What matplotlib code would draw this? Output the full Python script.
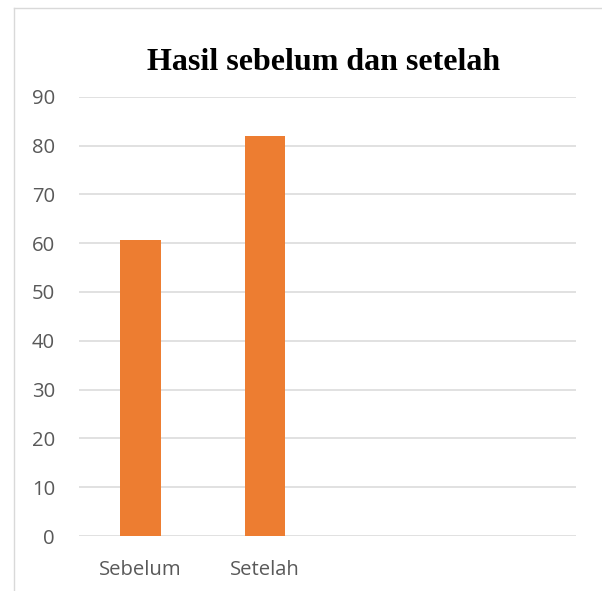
import matplotlib
matplotlib.use("Agg")
import matplotlib.pyplot as plt
from matplotlib.lines import Line2D

categories = ["Sebelum", "Setelah", "", ""]
values = [60.7, 82.0, 0, 0]
yticks = [0, 10, 20, 30, 40, 50, 60, 70, 80, 90]
title = "Hasil sebelum dan setelah"

W, H = 602, 591
fig = plt.figure(figsize=(W / 100, H / 100), dpi=100)
fig.patch.set_facecolor("white")

# chart area border (left and top visible)
fig.add_artist(Line2D([13.5 / W, 13.5 / W], [0, 1 - 7.5 / H], transform=fig.transFigure,
                      color="#d9d9d9", lw=1.0))
fig.add_artist(Line2D([13.5 / W, 1], [1 - 7.5 / H, 1 - 7.5 / H], transform=fig.transFigure,
                      color="#d9d9d9", lw=1.0))

left, right = 78.6 / W, 575.8 / W
bottom, top = 1 - 536 / H, 1 - 96.7 / H
ax = fig.add_axes([left, bottom, right - left, top - bottom])

x = list(range(len(categories)))
ax.bar(x, values, width=0.326, color="#ED7D31", zorder=3)
ax.set_xlim(-0.5, len(categories) - 0.5)
ax.set_ylim(0, 90)
ax.set_yticks(yticks)
ax.set_xticks(x)
ax.set_xticklabels(categories)
ax.grid(axis="y", color="#d9d9d9", lw=1.1, zorder=0)
ax.set_axisbelow(True)
for s in ax.spines.values():
    s.set_visible(False)
ax.tick_params(axis="both", length=0, labelsize=14.6, labelcolor="#595959")
ax.tick_params(axis="y", pad=17)
ax.tick_params(axis="x", pad=17)
for lab in ax.get_xticklabels() + ax.get_yticklabels():
    lab.set_fontfamily("Open Sans")

fig.text(324 / W, 1 - 70 / H, title, ha="center", va="baseline",
         fontsize=23, fontweight="bold", family="Liberation Serif", color="black")

fig.savefig("out.png", dpi=100, facecolor="white")
